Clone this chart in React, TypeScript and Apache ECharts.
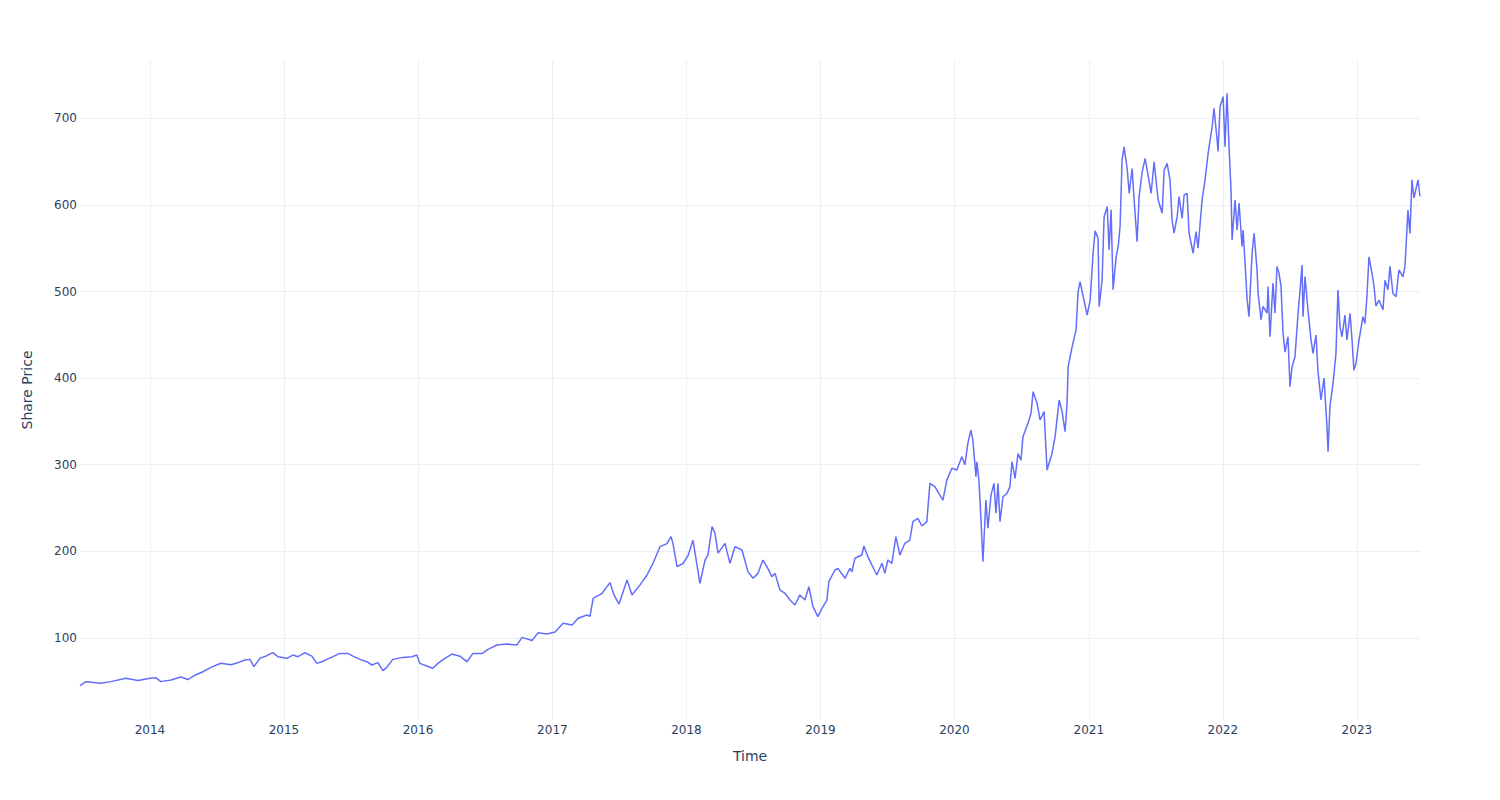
import React, { useEffect, useRef } from "react";
import * as echarts from "echarts";

// Time in decimal years
const years = [
  2013.478, 2013.523, 2013.635, 2013.709, 2013.821, 2013.911, 2014.0, 2014.045, 2014.082, 2014.157,
  2014.231, 2014.283, 2014.336, 2014.395, 2014.455, 2014.529, 2014.604, 2014.656, 2014.708, 2014.746,
  2014.776, 2014.82, 2014.865, 2014.917, 2014.955, 2015.022, 2015.066, 2015.104, 2015.156, 2015.208,
  2015.245, 2015.283, 2015.32, 2015.365, 2015.417, 2015.477, 2015.514, 2015.566, 2015.618, 2015.656,
  2015.7, 2015.738, 2015.767, 2015.812, 2015.887, 2015.954, 2015.991, 2016.013, 2016.066, 2016.11,
  2016.148, 2016.2, 2016.252, 2016.312, 2016.364, 2016.409, 2016.476, 2016.521, 2016.588, 2016.662,
  2016.737, 2016.774, 2016.849, 2016.893, 2016.961, 2017.02, 2017.08, 2017.147, 2017.192, 2017.259,
  2017.281, 2017.304, 2017.371, 2017.43, 2017.46, 2017.497, 2017.557, 2017.594, 2017.654, 2017.706,
  2017.744, 2017.803, 2017.855, 2017.885, 2017.9, 2017.93, 2017.975, 2018.012, 2018.049, 2018.101,
  2018.139, 2018.161, 2018.191, 2018.213, 2018.236, 2018.288, 2018.325, 2018.362, 2018.415, 2018.459,
  2018.497, 2018.534, 2018.571, 2018.601, 2018.638, 2018.661, 2018.698, 2018.735, 2018.773, 2018.81,
  2018.847, 2018.884, 2018.914, 2018.944, 2018.981, 2019.011, 2019.048, 2019.063, 2019.108, 2019.13,
  2019.183, 2019.22, 2019.235, 2019.257, 2019.309, 2019.324, 2019.354, 2019.384, 2019.421, 2019.459,
  2019.481, 2019.503, 2019.533, 2019.563, 2019.593, 2019.63, 2019.667, 2019.69, 2019.727, 2019.757,
  2019.794, 2019.817, 2019.854, 2019.891, 2019.914, 2019.943, 2019.981, 2020.018, 2020.055, 2020.078,
  2020.1, 2020.122, 2020.137, 2020.16, 2020.167, 2020.182, 2020.197, 2020.212, 2020.234, 2020.249,
  2020.272, 2020.294, 2020.309, 2020.324, 2020.339, 2020.361, 2020.391, 2020.413, 2020.428, 2020.451,
  2020.473, 2020.495, 2020.51, 2020.547, 2020.57, 2020.585, 2020.615, 2020.637, 2020.667, 2020.689,
  2020.726, 2020.749, 2020.779, 2020.801, 2020.823, 2020.838, 2020.846, 2020.876, 2020.905, 2020.92,
  2020.935, 2020.958, 2020.987, 2021.01, 2021.032, 2021.047, 2021.069, 2021.077, 2021.099, 2021.114,
  2021.137, 2021.151, 2021.166, 2021.181, 2021.204, 2021.219, 2021.233, 2021.248, 2021.263, 2021.286,
  2021.301, 2021.323, 2021.338, 2021.36, 2021.375, 2021.398, 2021.42, 2021.442, 2021.465, 2021.487,
  2021.517, 2021.547, 2021.562, 2021.584, 2021.606, 2021.621, 2021.636, 2021.659, 2021.673, 2021.696,
  2021.711, 2021.733, 2021.748, 2021.778, 2021.8, 2021.815, 2021.845, 2021.867, 2021.89, 2021.92,
  2021.934, 2021.957, 2021.964, 2021.979, 2022.002, 2022.016, 2022.031, 2022.046, 2022.061, 2022.069,
  2022.091, 2022.106, 2022.121, 2022.143, 2022.151, 2022.173, 2022.181, 2022.195, 2022.218, 2022.233,
  2022.255, 2022.263, 2022.285, 2022.3, 2022.33, 2022.337, 2022.352, 2022.374, 2022.389, 2022.404,
  2022.419, 2022.434, 2022.449, 2022.464, 2022.486, 2022.501, 2022.516, 2022.538, 2022.561, 2022.576,
  2022.591, 2022.598, 2022.613, 2022.635, 2022.658, 2022.673, 2022.695, 2022.71, 2022.732, 2022.755,
  2022.777, 2022.785, 2022.799, 2022.822, 2022.844, 2022.859, 2022.874, 2022.889, 2022.911, 2022.926,
  2022.949, 2022.964, 2022.978, 2022.993, 2023.016, 2023.045, 2023.06, 2023.075, 2023.09, 2023.113,
  2023.128, 2023.142, 2023.165, 2023.195, 2023.21, 2023.232, 2023.247, 2023.269, 2023.292, 2023.314,
  2023.344, 2023.359, 2023.381, 2023.396, 2023.411, 2023.426, 2023.456, 2023.471,
];

// Share price values
const prices = [
  45, 49.6, 47.7, 49.6, 53.4, 51, 53.4, 54, 49.6, 51.5,
  55, 52, 57, 61, 66, 70.8, 69, 71.5, 74.6, 75.3,
  66.9, 76.5, 79, 83, 78.4, 76.5, 80.3, 78.4, 83, 79.1,
  70.7, 72.6, 75.3, 78.4, 82.2, 82.2, 79, 75.3, 72.6, 68.8,
  71.5, 62.3, 66, 75.3, 77.6, 78.4, 80.3, 70.7, 67.7, 65,
  70.7, 76.5, 81.4, 79, 72.6, 82.2, 82, 86.9, 91.9, 93,
  92, 100.7, 97, 105.9, 104.6, 107, 117, 115, 122.7, 126.5,
  125, 145.8, 151.6, 163.9, 149.7, 139.2, 167, 149.7, 161.3, 172.7,
  184, 205.4, 209, 217, 209, 182.3, 186, 195, 213, 163,
  190, 196, 228.5, 221, 198, 209.2, 186.2, 205.4, 201.6, 176.6,
  168.9, 174.6, 190, 182.3, 170.8, 174.6, 155.4, 151.6, 143.9, 138.1,
  149.7, 143.9, 159.2, 136.2, 124.6, 134, 143.8, 165, 178.5, 180.4,
  168.9, 180.4, 176.5, 192, 195.8, 206.2, 193.9, 184.3, 172.7, 186.2,
  174.6, 190, 186.2, 217, 195.8, 209.3, 213, 234.3, 238, 229.3,
  234.3, 278.5, 274.7, 265, 259.2, 282.3, 295.9, 294, 309.3, 300,
  324.7, 340, 328.5, 286.2, 303.5, 282.3, 238.1, 188.1, 259.3, 226.7,
  265, 278.5, 244, 278.5, 234.3, 263, 267, 274.7, 303.5, 284.3,
  313, 305.4, 332.4, 347.8, 359.4, 384.4, 370.9, 351.7, 361.3, 294,
  313, 332.4, 374.7, 361.3, 338.2, 370.9, 413.2, 436.3, 455.6, 499.8,
  511.3, 494, 472.9, 490, 545, 570, 561.2, 482.5, 513.3, 586.4,
  598, 548, 594.3, 502, 540.5, 552, 575, 651.8, 667, 642,
  613.4, 642, 605.7, 557.6, 609.5, 638.2, 653.6, 634.4, 613.4, 649.8,
  606, 590.3, 640, 647.9, 628.6, 582.7, 567.3, 586.4, 609.5, 584.5,
  611.4, 613.3, 567.3, 544.2, 569.2, 550, 605.7, 628.6, 659.4, 690.2,
  711.4, 675, 661.6, 713.4, 725, 667.3, 728.9, 667, 617.2, 559.5,
  605.7, 571, 602, 551.9, 571, 513.3, 490.2, 471, 544.2, 567.3,
  525, 498.2, 467.4, 482.8, 475.1, 505.9, 447.9, 509.7, 475.1, 529,
  521.2, 505.9, 452, 430, 447.8, 390, 413, 424.6, 474.8, 501.8,
  530.6, 471, 517.2, 478.6, 444, 428.6, 449.8, 407.5, 374.8, 400,
  344, 315, 367, 394, 428.6, 501.8, 459.4, 447.8, 472.9, 444,
  474.8, 444, 409, 417, 444, 471, 463, 494, 540, 521,
  506, 483, 490, 479, 513, 502, 529, 498, 494, 525,
  517, 529, 594, 567, 629, 608, 629, 610,
];

const X_START = 2013.478;
const X_END = 2023.471;
const Y_MIN = 5.3;
const Y_MAX = 767.3;

const FONT = '"DejaVu Sans", verdana, arial, sans-serif';
const TEXT = "#2a3f5f";
const GRID = "#ebf0f8";
const LINE = "#636efa";

function yearToTime(y: number): number {
  const Y = Math.floor(y);
  const a = Date.UTC(Y, 0, 1);
  const b = Date.UTC(Y + 1, 0, 1);
  return a + (y - Y) * (b - a);
}

export default function App() {
  const ref = useRef<HTMLDivElement>(null);
  useEffect(() => {
    if (!ref.current) return;
    const chart = echarts.init(ref.current, undefined, { renderer: "svg" });
    const data = years.map((y, i) => [yearToTime(y), prices[i]]);
    chart.setOption({
      animation: false,
      useUTC: true,
      backgroundColor: "#ffffff",
      grid: { left: 80, right: 80, top: 60, bottom: 80 },
      xAxis: {
        type: "time",
        min: yearToTime(X_START),
        max: yearToTime(X_END),
        splitNumber: 10,
        name: "Time",
        nameLocation: "middle",
        nameGap: 29,
        nameTextStyle: { color: TEXT, fontSize: 14, fontFamily: FONT },
        axisLine: { show: false },
        axisTick: { show: false },
        axisLabel: {
          color: TEXT,
          fontSize: 12,
          fontFamily: FONT,
          margin: 4,
          showMinLabel: false,
          showMaxLabel: false,
          formatter: (v: number) => String(new Date(v).getUTCFullYear()),
        },
        splitLine: {
          show: true,
          showMinLine: false,
          showMaxLine: false,
          lineStyle: { color: GRID, width: 1 },
        },
      },
      yAxis: {
        type: "value",
        min: Y_MIN,
        max: Y_MAX,
        splitNumber: 8,
        name: "Share Price",
        nameLocation: "middle",
        nameGap: 46,
        nameTextStyle: { color: TEXT, fontSize: 14, fontFamily: FONT },
        axisLine: { show: false },
        axisTick: { show: false },
        axisLabel: {
          color: TEXT,
          fontSize: 12,
          fontFamily: FONT,
          margin: 3,
          showMinLabel: false,
          showMaxLabel: false,
        },
        splitLine: {
          show: true,
          showMinLine: false,
          showMaxLine: false,
          lineStyle: { color: GRID, width: 1 },
        },
      },
      series: [
        {
          type: "line",
          data,
          symbol: "none",
          showSymbol: false,
          lineStyle: { color: LINE, width: 1.5 },
          itemStyle: { color: LINE },
        },
      ],
    });
    return () => chart.dispose();
  }, []);
  return (
    <div
      ref={ref}
      style={{ position: "fixed", left: 0, top: 0, width: 1500, height: 800, background: "#fff" }}
    />
  );
}
